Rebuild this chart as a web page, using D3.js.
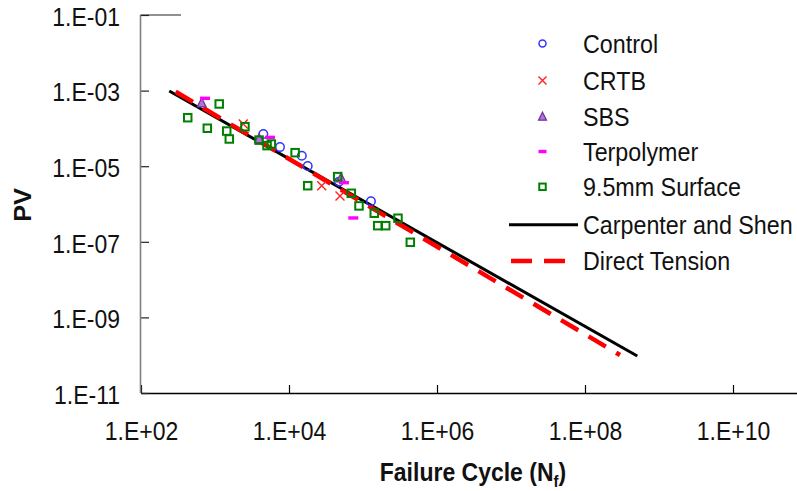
<!DOCTYPE html>
<html>
<head>
<meta charset="utf-8">
<script src="https://cdn.jsdelivr.net/npm/d3@7/dist/d3.min.js"></script>
<style>
  html, body { margin: 0; padding: 0; background: #fff; }
  svg { display: block; }
  text { font-family: "Liberation Sans", Arial, sans-serif; fill: #111; }
</style>
</head>
<body>
<svg id="chart" width="797" height="491"></svg>
<script>
// Failure cycle (Nf) and PV for each binder / mix group
const controlN  = [4500, 7550, 14900, 17900, 47400, 128000];
const controlPV = [7.1e-5, 3.2e-5, 1.9e-5, 1.01e-5, 3.9e-6, 1.18e-6];

const crtbN  = [2410, 27700, 48900];
const crtbPV = [1.31e-4, 3.05e-6, 1.63e-6];

const sbsN  = [661, 3940, 50500];
const sbsPV = [4.6e-4, 5.25e-5, 4.8e-6];

const terpN  = [733, 5530, 55300, 74000];
const terpPV = [6.25e-4, 5.8e-5, 3.66e-6, 4.27e-7];

const surfN  = [428, 1140, 787, 1440, 1560, 2540, 3940, 5050, 5770, 12100,
                17900, 45500, 69500, 88300, 142000, 158000, 203000, 297000, 436000];
const surfPV = [1.92e-4, 4.43e-4, 1.01e-4, 8.5e-5, 5.25e-5, 1.11e-4, 4.9e-5, 3.5e-5, 3.86e-5, 2.28e-5,
                3.05e-6, 5.3e-6, 1.92e-6, 8.9e-7, 5.7e-7, 2.67e-7, 2.67e-7, 4.2e-7, 9.7e-8];

// Fatigue relationships (end points of each line)
const carpenterN  = [241, 5.09e8];
const carpenterPV = [9.8e-4, 9.5e-11];
const tensionN  = [294, 2.97e8];
const tensionPV = [9.35e-4, 1.01e-10];

const xTickValues = [1e2, 1e4, 1e6, 1e8, 1e10];
const xTickLabels = ["1.E+02", "1.E+04", "1.E+06", "1.E+08", "1.E+10"];
const yTickValues = [1e-1, 1e-3, 1e-5, 1e-7, 1e-9, 1e-11];
const yTickLabels = ["1.E-01", "1.E-03", "1.E-05", "1.E-07", "1.E-09", "1.E-11"];

const legendNames = ["Control", "CRTB", "SBS", "Terpolymer", "9.5mm Surface",
                     "Carpenter and Shen", "Direct Tension"];

const svg = d3.select("#chart");

const x = d3.scaleLog().domain([1e2, 1e10]).range([141, 733]);
const y = d3.scaleLog().domain([1e-11, 1e-1]).range([393, 15]);

const zip = (a, b) => a.map((v, i) => [v, b[i]]);

// Slightly taller lettering: stretch each label vertically about its own anchor
const STRETCH = 1.12;
function stretch(sel) {
  sel.each(function () {
    const t = d3.select(this);
    const ax = +t.attr("x") || 0, ay = +t.attr("y") || 0;
    t.attr("transform", `translate(${ax},${ay}) scale(1,${STRETCH}) translate(${-ax},${-ay})`);
  });
}

// Axes
const xAxis = d3.axisBottom(x).tickValues(xTickValues)
  .tickFormat((d, i) => xTickLabels[i]).tickSize(-8).tickSizeOuter(0);
const gx = svg.append("g").attr("transform", "translate(0,393)").call(xAxis);
gx.select(".domain").remove();
gx.selectAll(".tick line").attr("stroke", "#000").attr("stroke-width", 1.2);
gx.selectAll(".tick text").attr("y", 38).attr("dy", "0.36em")
  .style("font-size", "23px").attr("fill", "#111").call(stretch);
gx.append("line").attr("x1", x(1e2)).attr("x2", 797).attr("y1", 0.5).attr("y2", 0.5)
  .attr("stroke", "#000").attr("stroke-width", 1.3);

const yAxis = d3.axisLeft(y).tickValues(yTickValues)
  .tickFormat((d, i) => yTickLabels[i]).tickSize(-8).tickSizeOuter(0);
const gy = svg.append("g").attr("transform", "translate(141,0)").call(yAxis);
gy.select(".domain").remove();
gy.selectAll(".tick line").attr("stroke", "#222").attr("stroke-width", 1.2);
gy.selectAll(".tick text").attr("x", -21).attr("y", 1).attr("dy", "0.36em")
  .style("font-size", "23px").attr("fill", "#111").call(stretch);
gy.append("line").attr("x1", -0.5).attr("x2", -0.5).attr("y1", y(1e-1)).attr("y2", y(1e-11))
  .attr("stroke", "#808080").attr("stroke-width", 1.6);
gy.append("line").attr("x1", -0.5).attr("x2", 40).attr("y1", y(1e-1)).attr("y2", y(1e-1))
  .attr("stroke", "#222").attr("stroke-width", 1.2);

// Axis titles
svg.append("text").attr("x", 473).attr("y", 481).attr("text-anchor", "middle")
  .style("font-size", "23px").style("font-weight", "bold")
  .html('Failure Cycle (N<tspan dy="5" style="font-size:15px">f</tspan><tspan dy="-5">)</tspan>')
  .call(stretch);
svg.append("text").attr("transform", "translate(31,205) rotate(-90) scale(1.1,1)")
  .attr("text-anchor", "middle").style("font-size", "23px").style("font-weight", "bold")
  .text("PV");

// Fatigue lines
const line = d3.line().x(d => x(d[0])).y(d => y(d[1]));
svg.append("path").datum(zip(carpenterN, carpenterPV)).attr("d", line)
  .attr("fill", "none").attr("stroke", "#000").attr("stroke-width", 3);
svg.append("path").datum(zip(tensionN, tensionPV)).attr("d", line)
  .attr("fill", "none").attr("stroke", "#ff0000").attr("stroke-width", 4.5)
  .attr("stroke-dasharray", "20,12");

// Marker painters
const marks = {
  square: (g, cx, cy, s) => g.append("rect").attr("x", cx - s / 2).attr("y", cy - s / 2)
    .attr("width", s).attr("height", s).attr("fill", "none")
    .attr("stroke", "#008000").attr("stroke-width", 2),
  circle: (g, cx, cy, s) => g.append("circle").attr("cx", cx).attr("cy", cy).attr("r", s / 2)
    .attr("fill", "none").attr("stroke", "#3333ff").attr("stroke-width", 1.5),
  cross: (g, cx, cy, s) => g.append("path")
    .attr("d", `M${cx - s / 2},${cy - s / 2}L${cx + s / 2},${cy + s / 2}M${cx - s / 2},${cy + s / 2}L${cx + s / 2},${cy - s / 2}`)
    .attr("stroke", "#ff2020").attr("stroke-width", 1.4).attr("fill", "none"),
  triangle: (g, cx, cy, s) => g.append("path")
    .attr("d", `M${cx},${cy - s * 0.6}L${cx + s / 2},${cy + s * 0.4}L${cx - s / 2},${cy + s * 0.4}Z`)
    .attr("fill", "#b272d6").attr("stroke", "#70309a").attr("stroke-width", 1.2),
  dash: (g, cx, cy, s) => g.append("rect").attr("x", cx - s / 2).attr("y", cy - 1.7)
    .attr("width", s).attr("height", 3.4).attr("fill", "#ff00ff")
};

const series = [
  { n: controlN, pv: controlPV, mark: "circle", size: 8.5 },
  { n: crtbN, pv: crtbPV, mark: "cross", size: 9 },
  { n: sbsN, pv: sbsPV, mark: "triangle", size: 9 },
  { n: terpN, pv: terpPV, mark: "dash", size: 10 },
  { n: surfN, pv: surfPV, mark: "square", size: 7.5 }
];

const pts = svg.append("g");
series.forEach(s => {
  zip(s.n, s.pv).forEach(([n, pv]) => marks[s.mark](pts, x(n), y(pv), s.size));
});

// Legend
const legendY = [43.5, 80.4, 117, 151.5, 186.8, 224.7, 261];
const legendMarks = ["circle", "cross", "triangle", "dash", "square"];
const legendSizes = [7, 8, 8, 8, 6.5];
const lg = svg.append("g");
legendNames.forEach((name, i) => {
  const cy = legendY[i];
  if (i < 5) {
    marks[legendMarks[i]](lg, 542.5, cy, legendSizes[i]);
  } else if (i === 5) {
    lg.append("line").attr("x1", 509).attr("x2", 578).attr("y1", cy).attr("y2", cy)
      .attr("stroke", "#000").attr("stroke-width", 3);
  } else {
    lg.append("line").attr("x1", 511).attr("x2", 567).attr("y1", cy).attr("y2", cy)
      .attr("stroke", "#ff0000").attr("stroke-width", 4.5).attr("stroke-dasharray", "21,12");
  }
  lg.append("text").attr("x", 583).attr("y", cy).attr("dy", "0.36em")
    .style("font-size", "23.3px").text(name).call(stretch);
});
</script>
</body>
</html>
